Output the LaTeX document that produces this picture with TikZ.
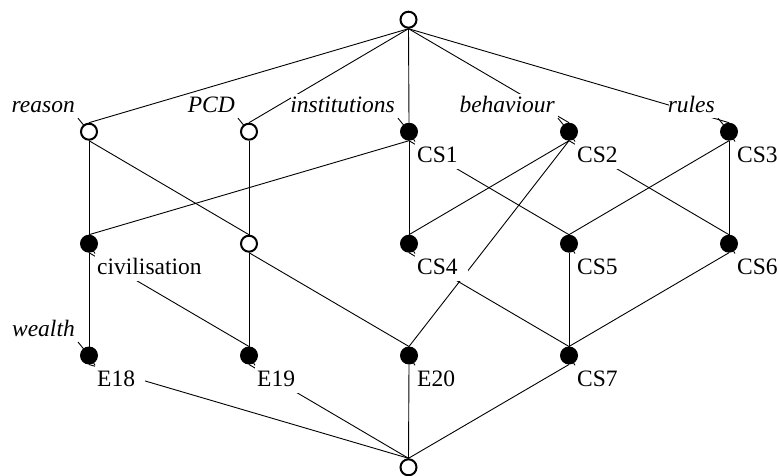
\documentclass[tikz,border=0pt]{standalone}
\usepackage{fontspec}
\setmainfont{Liberation Serif}
\usetikzlibrary{calc}
\pgfdeclarelayer{edgelayer}
\pgfdeclarelayer{labellayer}
\pgfsetlayers{edgelayer,labellayer,main}
\tikzset{
  filledpt/.style={circle, fill=black, minimum size=18pt, inner sep=0pt, outer sep=0pt},
  openpt/.style={circle, draw=black, fill=white, line width=2pt, minimum size=16pt, inner sep=0pt, outer sep=1pt},
  edge/.style={line width=0.9pt, draw=black},
  stub/.style={line width=0.9pt, draw=black},
  attrlabel/.style={fill=white, inner xsep=3pt, inner ysep=2pt, text height=17pt, text depth=3pt,
    anchor=base east, font=\fontsize{23.5}{28}\selectfont\itshape,
    execute at begin node={\hspace*{-4pt}}},
  objlabel/.style={fill=white, inner xsep=2pt, inner ysep=3.5pt, text height=17pt, text depth=3pt,
    anchor=base west, font=\fontsize{23.5}{28}\selectfont,
    execute at end node={\hspace*{8pt}}},
}
\begin{document}
\begin{tikzpicture}[x=1pt,y=-1pt]
\useasboundingbox (0,0) rectangle (779,476);
% lattice nodes
\node[openpt]   (top)    at (408.5,19.7) {};
\node[openpt]   (reason) at (89,131.7) {};
\node[openpt]   (pcd)    at (249,131.7) {};
\node[filledpt] (inst)   at (409,131.7) {};
\node[filledpt] (beh)    at (569,131.7) {};
\node[filledpt] (rul)    at (729,131.7) {};
\node[filledpt] (civ)    at (89,243.7) {};
\node[openpt]   (rp)     at (249,243.7) {};
\node[filledpt] (cs4)    at (409,243.7) {};
\node[filledpt] (cs5)    at (569,243.7) {};
\node[filledpt] (cs6)    at (729,243.7) {};
\node[filledpt] (e18)    at (89,355.5) {};
\node[filledpt] (e19)    at (249,355.5) {};
\node[filledpt] (e20)    at (409,355.5) {};
\node[filledpt] (cs7)    at (569,355.5) {};
\node[openpt]   (bot)    at (408.5,467.3) {};
% labels
\begin{pgfonlayer}{labellayer}
\node[attrlabel] (lreason) at ($(reason)+(-11,-18.7)$) {reason};
\node[attrlabel] (lpcd)    at ($(pcd)+(-11,-18.7)$) {PCD};
\node[attrlabel] (linst)   at ($(inst)+(-11,-18.7)$) {institutions};
\node[attrlabel] (lbeh)    at ($(beh)+(-11,-18.7)$) {behaviour};
\node[attrlabel] (lrul)    at ($(rul)+(-11,-18.7)$) {rules};
\node[attrlabel] (lwealth) at ($(e18)+(-11,-18.7)$) {wealth};
\node[objlabel] (lcs1) at ($(inst)+(6,30.5)$) {CS1};
\node[objlabel] (lcs2) at ($(beh)+(6,30.5)$) {CS2};
\node[objlabel] (lcs3) at ($(rul)+(6,30.5)$) {CS3};
\node[objlabel] (lciv) at ($(civ)+(6,30.5)$) {civilisation};
\node[objlabel] (lcs4) at ($(cs4)+(6,30.5)$) {CS4};
\node[objlabel] (lcs5) at ($(cs5)+(6,30.5)$) {CS5};
\node[objlabel] (lcs6) at ($(cs6)+(6,30.5)$) {CS6};
\node[objlabel] (le18) at ($(e18)+(6,30.5)$) {E18};
\node[objlabel] (le19) at ($(e19)+(6,30.5)$) {E19};
\node[objlabel] (le20) at ($(e20)+(6,30.5)$) {E20};
\node[objlabel] (lcs7) at ($(cs7)+(6,30.5)$) {CS7};
\end{pgfonlayer}
% edges
\begin{pgfonlayer}{edgelayer}
\foreach \n in {reason,pcd,inst,beh,rul} \draw[edge] (top.south) -- (\n.north);
\draw[edge] (reason.south) -- (civ.north);
\draw[edge] (reason.south) -- (rp.north);
\draw[edge] (pcd.south) -- (rp.north);
\draw[edge] (inst.south) -- (civ.north);
\draw[edge] (inst.south) -- (cs4.north);
\draw[edge] (inst.south) -- (cs5.north);
\draw[edge] (beh.south) -- (cs4.north);
\draw[edge] (beh.south) -- (e20.north);
\draw[edge] (beh.south) -- (cs6.north);
\draw[edge] (rul.south) -- (cs5.north);
\draw[edge] (rul.south) -- (cs6.north);
\draw[edge] (civ.south) -- (e18.north);
\draw[edge] (civ.south) -- (e19.north);
\draw[edge] (rp.south) -- (e19.north);
\draw[edge] (rp.south) -- (e20.north);
\draw[edge] (cs4.south) -- (cs7.north);
\draw[edge] (cs5.south) -- (cs7.north);
\draw[edge] (cs6.south) -- (cs7.north);
\foreach \n in {e18,e19,e20,cs7} \draw[edge] (\n.south) -- (bot.north);
% label stubs
\draw[stub] (reason.center) -- (lreason.south east);
\draw[stub] (pcd.center) -- (lpcd.south east);
\draw[stub] (inst.center) -- (linst.south east);
\draw[stub] (beh.center) -- (lbeh.south east);
\draw[stub] (rul.center) -- (lrul.south east);
\draw[stub] (e18.center) -- (lwealth.south east);
\draw[stub] (inst.center) -- (lcs1.north west);
\draw[stub] (beh.center) -- (lcs2.north west);
\draw[stub] (rul.center) -- (lcs3.north west);
\draw[stub] (civ.center) -- (lciv.north west);
\draw[stub] (cs4.center) -- (lcs4.north west);
\draw[stub] (cs5.center) -- (lcs5.north west);
\draw[stub] (cs6.center) -- (lcs6.north west);
\draw[stub] (e18.center) -- (le18.north west);
\draw[stub] (e19.center) -- (le19.north west);
\draw[stub] (e20.center) -- (le20.north west);
\draw[stub] (cs7.center) -- (lcs7.north west);
\end{pgfonlayer}
\end{tikzpicture}
\end{document}
